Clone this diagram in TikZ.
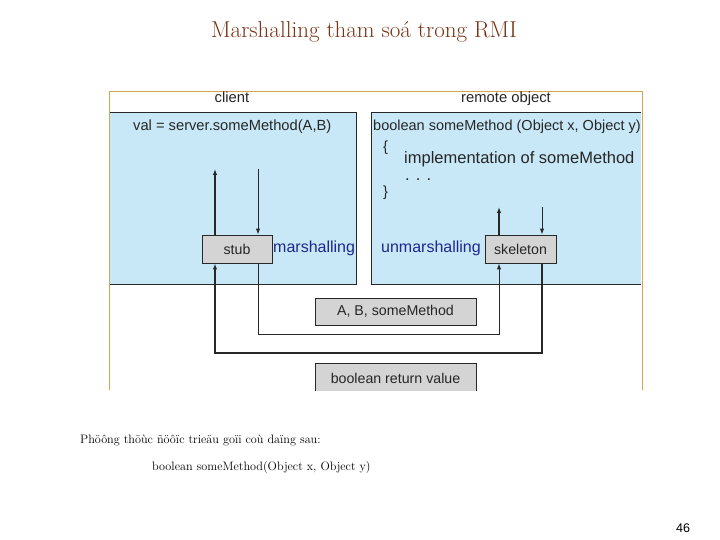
\documentclass[tikz,border=0pt]{standalone}
\usepackage{fontspec}
\newfontfamily\arial{Liberation Sans}
\usetikzlibrary{arrows.meta}
\definecolor{panelblue}{RGB}{200,232,248}
\definecolor{boxgray}{RGB}{212,212,212}
\definecolor{framec}{RGB}{214,165,80}
\definecolor{labblue}{RGB}{30,40,140}
\definecolor{titlec}{RGB}{120,50,20}
\definecolor{linec}{RGB}{40,40,40}
\begin{document}
\begin{tikzpicture}[x=1pt,y=-1pt,
  lbl/.style={font=\arial\fontsize{14.7}{16}\selectfont, inner sep=0pt, anchor=west, text=black!85},
  biglbl/.style={lbl, font=\arial\fontsize{16.5}{18}\selectfont},
  bluelbl/.style={lbl, font=\arial\fontsize{16}{18}\selectfont, text=labblue},
  head/.style={font=\arial\fontsize{14.8}{16}\selectfont, inner sep=0pt, anchor=base, text=black!85},
  gbox/.style={draw=linec, fill=boxgray, line width=0.9pt, inner sep=0pt,
    font=\arial\fontsize{14.2}{16}\selectfont, text=black!85},
  panel/.style={fill=panelblue},
  pborder/.style={draw=linec, line width=0.8pt},
  conn/.style={draw=linec, line width=1pt, -{Latex[length=6pt,width=4.5pt]}},
  connthick/.style={draw=linec, line width=1.6pt, -{Latex[length=6pt,width=4.5pt]}},
  serif/.style={inner sep=0pt, anchor=west, font=\fontsize{12.2}{14}\selectfont}
]
\useasboundingbox (0,0) rectangle (720,540);
% title
\node[font=\fontsize{23}{26}\selectfont, text=titlec, inner sep=0pt] (title) at (364,32) {Marshalling tham soá trong RMI};
% panels
\fill[panel] (110,112) rectangle (356,284);
\fill[panel] (371,112) rectangle (641,284);
\draw[pborder] (110,112) -- (356,112) -- (356,284) -- (110,284);
\draw[pborder] (641,112) -- (371,112) -- (371,284) -- (641,284);
% outer frame
\draw[framec, line width=0.8pt] (109,390) -- (109,91) -- (642,91) -- (642,390);
% headers
\node[head] (client) at (232,103) {client};
\node[head] (remote) at (506,103) {remote object};
% texts
\node[lbl] (call) at (133,127) {val = server.someMethod(A,B)};
\node[lbl, font=\arial\fontsize{14.5}{16}\selectfont] (sig) at (373,127) {boolean someMethod (Object x, Object y)};
\node[lbl] (lb) at (383,148) {\{};
\node[biglbl] (impl) at (404,159) {implementation of someMethod};
\node[biglbl, anchor=base west] (dots) at (405,181) {. . .};
\node[lbl] (rb) at (383,193) {\}};
\node[bluelbl] (mar) at (273,248) {marshalling};
\node[bluelbl] (unmar) at (381,248) {unmarshalling};
% boxes
\node[gbox, minimum width=70pt, minimum height=28pt] (stub) at (237,249) {stub};
\node[gbox, minimum width=71pt, minimum height=28pt] (skel) at (520.5,249) {skeleton};
\node[gbox, minimum width=161pt, minimum height=27pt] (args) at (395.5,311.5) {A, B, someMethod};
\begin{scope}
\clip (0,0) rectangle (720,390);
\node[gbox, minimum width=161pt, minimum height=30pt] (ret) at (395.5,378) {boolean return value};
\end{scope}
% coordinates
\coordinate (c1) at (215,169);
\coordinate (c2) at (258,169);
\coordinate (s1) at (499,207);
\coordinate (s2) at (542,207);
\coordinate (a1) at (258,334);
\coordinate (a2) at (499,334);
\coordinate (r1) at (542,353);
\coordinate (r2) at (215,353);
% connectors
\draw[connthick] (stub.north -| c1) -- (c1);
\draw[conn] (c2) -- (stub.north -| c2);
\draw[connthick] (skel.north -| s1) -- (s1);
\draw[conn] (s2) -- (skel.north -| s2);
\draw[conn] (stub.south -| a1) -- (a1) -- (a2) -- (skel.south -| a2);
\draw[connthick] (skel.south -| r1) -- (r1) -- (r2) -- (stub.south -| r2);
% bottom text
\node[serif] (desc) at (80,440) {Phöông thöùc ñöôïc trieäu goïi coù daïng sau:};
\node[serif] (code) at (152,467) {boolean someMethod(Object x, Object y)};
\node[font=\arial\fontsize{12.5}{14}\selectfont, inner sep=0pt] (page) at (683,528) {46};
\end{tikzpicture}
\end{document}
